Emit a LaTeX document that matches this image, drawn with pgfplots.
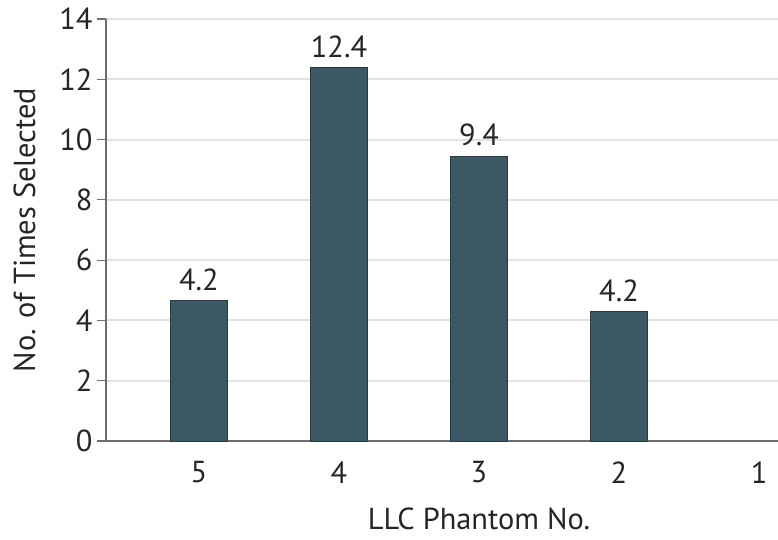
\documentclass[border=0pt]{standalone}
\usepackage{pgfplots}
\pgfplotsset{compat=1.18}
\usepackage{fontspec}
\setmainfont{PT Sans}
\definecolor{barfill}{RGB}{59,89,101}
\definecolor{baredge}{RGB}{42,58,64}
\definecolor{axisgray}{RGB}{110,110,110}
\definecolor{gridgray}{RGB}{226,226,228}
\newcommand{\chartfont}{\fontsize{30.5}{34}\selectfont}
\begin{document}
\begin{tikzpicture}
\useasboundingbox (-106bp,-99bp) rectangle (672bp,441bp);
\begin{axis}[
  at={(0,0)}, anchor=south west,
  scale only axis,
  width=746bp, height=422bp,
  ybar,
  bar width=57bp,
  xmin=-0.664, xmax=4.664,
  ymin=0, ymax=14,
  ytick={0,2,...,14},
  xtick={0,1,2,3,4},
  xticklabels={5,4,3,2,1},
  axis x line*=bottom,
  axis y line*=left,
  axis line style={axisgray, line width=1.5bp},
  x axis line style={-},
  y axis line style={-},
  major x tick style={draw=none},
  major y tick style={axisgray, line width=1.2bp},
  tick align=outside,
  major tick length=9bp,
  ymajorgrids,
  grid style={gridgray, line width=2bp},
  tick label style={font=\chartfont, black!85},
  label style={font=\chartfont, black!85},
  xticklabel style={yshift=-8bp},
  yticklabel style={xshift=-1bp},
  /pgf/number format/assume math mode=true,
  xlabel={LLC Phantom No.},
  ylabel={No. of Times Selected},
  xlabel style={yshift=-18bp},
  ylabel style={yshift=17bp},
  nodes near coords,
  point meta=explicit symbolic,
  every node near coord/.append style={font=\chartfont, black!85, yshift=6bp},
]
\addplot[fill=barfill, draw=baredge, line width=1bp] coordinates {
  (0,4.65) [4.2]
  (1,12.4) [12.4]
  (2,9.45) [9.4]
  (3,4.3) [4.2]
};
\end{axis}
\end{tikzpicture}
\end{document}
